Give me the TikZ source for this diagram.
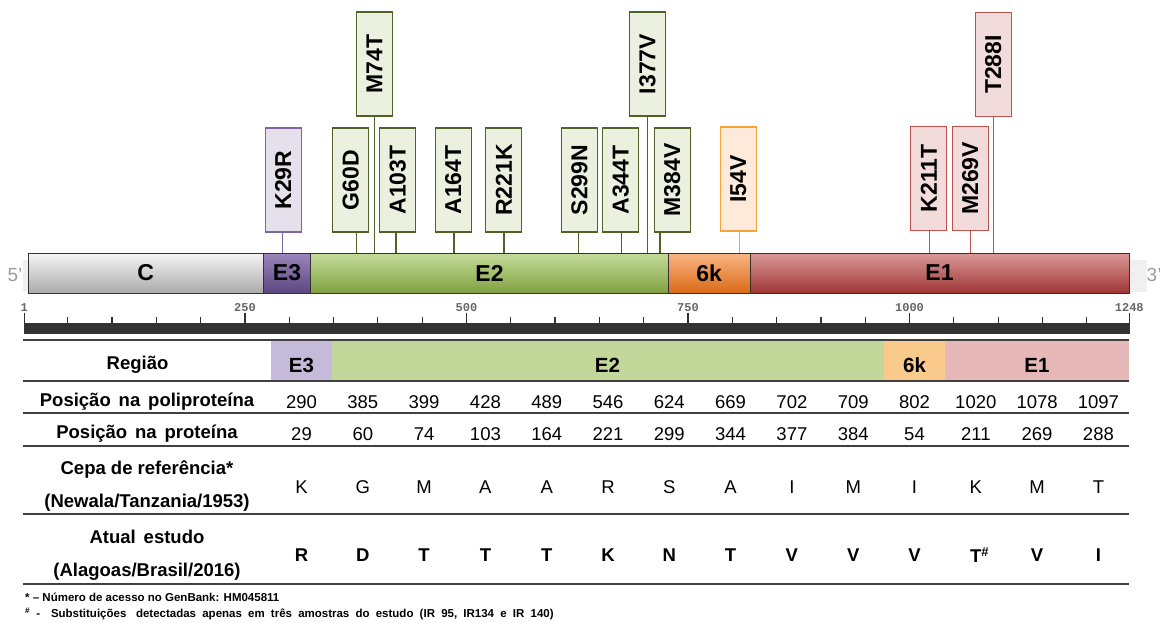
\documentclass[tikz,border=0pt]{standalone}
\usepackage{fontspec}
\usepackage{graphicx}
\setmainfont{Liberation Sans}
\newfontfamily\monof{Liberation Mono}
\definecolor{barline}{HTML}{333333}
\definecolor{e3b}{HTML}{8064A2}
\definecolor{e3f}{HTML}{E5E0EC}
\definecolor{e2b}{HTML}{4F6228}
\definecolor{e2f}{HTML}{EBF1DE}
\definecolor{k6b}{HTML}{F6A33A}
\definecolor{k6f}{HTML}{FDEADA}
\definecolor{e1b}{HTML}{C0504D}
\definecolor{e1f}{HTML}{F2DCDB}
\definecolor{te3}{HTML}{C6BADA}
\definecolor{te2}{HTML}{C4D79B}
\definecolor{tk6}{HTML}{FACA8C}
\definecolor{te1}{HTML}{E6B8B7}
\definecolor{tline}{HTML}{404040}
\definecolor{rulerc}{HTML}{333333}
\definecolor{primec}{HTML}{9A9A9A}
\begin{document}
\begin{tikzpicture}[x=1pt,y=-1pt,
  seg/.style={draw=barline, line width=1pt, minimum height=40pt, inner sep=0pt,
    font=\fontsize{23}{23}\selectfont\bfseries, text=black},
  flag/.style 2 args={draw=#1, fill=#2, line width=1.3pt, minimum width=36pt,
    minimum height=104pt, inner sep=0pt, font=\fontsize{23}{23}\selectfont\bfseries},
  stemline/.style={draw=#1, line width=1.2pt},
  tabline/.style={draw=tline, line width=1.4pt},
  rowlabel/.style={font=\fontsize{18.5}{18.5}\selectfont\bfseries, inner sep=0pt},
  num/.style={font=\fontsize{18.5}{18.5}\selectfont, inner sep=0pt},
  bnum/.style={font=\fontsize{18.5}{18.5}\selectfont\bfseries, inner sep=0pt},
  reghead/.style={font=\fontsize{20.5}{20.5}\selectfont\bfseries, inner sep=0pt},
  rulerlabel/.style={font=\monof\fontsize{12}{12}\selectfont\bfseries, text=black!60, inner sep=0pt},
  prime/.style={font=\fontsize{19}{19}\selectfont, text=primec, inner sep=0pt},
  foot/.style={font=\fontsize{11.5}{11.5}\selectfont\bfseries, inner sep=0pt, anchor=west}
]
\useasboundingbox (0,0) rectangle (1160,622);

% ---------------- flags and stems ----------------
\foreach \n/\cx/\cy/\sx/\t/\bc/\fc in {
  k29r/283.3/180/282.7/K29R/e3b/e3f,
  g60d/350.8/180/356.7/G60D/e2b/e2f,
  m74t/374.5/64/374.3/M74T/e2b/e2f,
  a103t/397.8/180/396.0/A103T/e2b/e2f,
  a164t/453.2/180/454.0/A164T/e2b/e2f,
  r221k/503.8/180/504.0/R221K/e2b/e2f,
  s299n/579.5/180/578.3/S299N/e2b/e2f,
  a344t/620.8/180/621.7/A344T/e2b/e2f,
  i377v/647.5/64/647.7/I377V/e2b/e2f,
  m384v/672.2/180/660.0/M384V/e2b/e2f,
  i54v/738.3/179/739.3/I54V/k6b/k6f,
  k211t/928.8/178.5/929.7/K211T/e1b/e1f,
  m269v/970.3/178.5/970.7/M269V/e1b/e1f,
  t288i/993.3/64.5/993.3/T288I/e1b/e1f}{
  \node[flag={\bc}{\fc}] (\n) at (\cx,\cy) {\rotatebox{90}{\t}};
  \coordinate (s-\n) at (\sx,253);
  \draw[stemline=\bc] (s-\n) -- (s-\n |- \n.south);
}

% ---------------- genome bar ----------------
\fill[black!6] (23,260) rectangle (28.3,291.5);
\fill[black!6] (1129,260) rectangle (1147,291.5);
\node[seg, minimum width=235pt, top color=black!4, bottom color=black!33] (C) at (145.8,273) {C};
\node[seg, minimum width=47.4pt, top color={rgb,255:red,155;green,135;blue,187}, bottom color={rgb,255:red,91;green,70;blue,128}] (E3) at (287,273) {E3};
\node[seg, minimum width=357.6pt, top color={rgb,255:red,197;green,220;blue,155}, bottom color={rgb,255:red,128;green,160;blue,64}] (E2) at (489.5,273) {E2};
\node[seg, minimum width=81.7pt, top color={rgb,255:red,250;green,181;blue,132}, bottom color={rgb,255:red,218;green,106;blue,23}] (K6) at (709.15,273) {6k};
\node[seg, minimum width=379pt, top color={rgb,255:red,219;green,153;blue,152}, bottom color={rgb,255:red,158;green,54;blue,53}] (E1) at (939.5,273) {E1};
\node[prime] (p5) at (15,275) {5'};
\node[prime, anchor=west] (p3) at (1146.5,275) {3'};

% ---------------- ruler ----------------
\fill[rulerc] (24.3,323) rectangle (1130,334);
\foreach \v in {50,100,...,1200}{
  \draw[rulerc, line width=1.2pt] ({24.3+(\v-1)*0.8861},317) -- ({24.3+(\v-1)*0.8861},323.5);
}
\foreach \v/\nm in {1/r1,250/r250,500/r500,750/r750,1000/r1000,1248/r1248}{
  \draw[rulerc, line width=1.3pt] ({24.3+(\v-1)*0.8861},312.5) -- ({24.3+(\v-1)*0.8861},323.5);
  \node[rulerlabel] (\nm) at ({24.3+(\v-1)*0.8861},307.5) {\v};
}

% ---------------- table ----------------
\fill[te3] (270.85,341) rectangle (332.15,380.5);
\fill[te2] (332.15,341) rectangle (883.85,380.5);
\fill[tk6] (883.85,341) rectangle (945.15,380.5);
\fill[te1] (945.15,341) rectangle (1129,380.5);
\draw[tabline, line width=1.8pt] (22.7,340) -- (1129,340);
\draw[tabline, line width=1.8pt] (22.7,381) -- (1129,381);
\draw[tabline, line width=1.1pt] (22.7,413) -- (1129,413);
\draw[tabline] (22.7,446) -- (1129,446);
\draw[tabline] (22.7,514) -- (1129,514);
\draw[tabline] (22.7,584) -- (1129,584);

\node[reghead] (hE3) at (301.5,365.5) {E3};
\node[reghead] (hE2) at (607.5,365.5) {E2};
\node[reghead] (hK6) at (914.5,365.5) {6k};
\node[reghead] (hE1) at (1037,365.5) {E1};

\node[rowlabel] (lreg) at (137.5,365) {Região};
\node[rowlabel] (lpoly) at (147,402) {Posição\hspace{0.15em} na\hspace{0.15em} poliproteína};
\node[rowlabel] (lprot) at (147,434) {Posição\hspace{0.15em} na\hspace{0.15em} proteína};
\node[rowlabel] (lcepa1) at (147,470) {Cepa de referência*};
\node[rowlabel] (lcepa2) at (147,503) {(Newala/Tanzania/1953)};
\node[rowlabel] (latual1) at (147,537) {Atual\hspace{0.15em} estudo};
\node[rowlabel] (latual2) at (147,572) {(Alagoas/Brasil/2016)};

\foreach \v [count=\k from 0] in {290,385,399,428,489,546,624,669,702,709,802,1020,1078,1097}{
  \node[num] (poly\k) at ({301.5+61.3*\k},402) {\v};
}
\foreach \v [count=\k from 0] in {29,60,74,103,164,221,299,344,377,384,54,211,269,288}{
  \node[num] (prot\k) at ({301.5+61.3*\k},434) {\v};
}
\foreach \v [count=\k from 0] in {K,G,M,A,A,R,S,A,I,M,I,K,M,T}{
  \node[num] (ref\k) at ({301.5+61.3*\k},487) {\v};
}
\foreach \v [count=\k from 0] in {R,D,T,T,T,K,N,T,V,V,V,{T\rlap{\textsuperscript{\#}}},V,I}{
  \node[bnum] (cur\k) at ({301.5+61.3*\k},555) {\v};
}

% ---------------- footnotes ----------------
\node[foot] (f1) at (25,597) {* -- Número de acesso no GenBank: HM045811};
\node[foot] (f2) at (25,614) {\spaceskip=6.2pt\textsuperscript{\#} -\hspace{0.4em} Substituições\hspace{0.3em} detectadas apenas em três amostras do estudo (IR 95, IR134 e IR 140)};
\end{tikzpicture}
\end{document}
